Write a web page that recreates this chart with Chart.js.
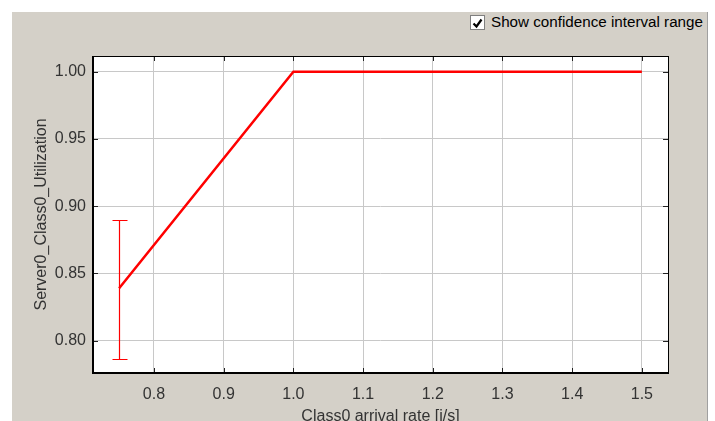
<!DOCTYPE html>
<html>
<head>
<meta charset="utf-8">
<script src="https://cdn.jsdelivr.net/npm/chart.js@4.4.0/dist/chart.umd.min.js"></script>
<style>
  html, body { margin: 0; padding: 0; background: #fff; overflow: hidden; }
  #panel { position: absolute; left: 12px; top: 12px; width: 695px; height: 420px;
           background: #d4d0c8; border-right: 1px solid #a0a0a0; }
  #chk { position: absolute; left: 458px; top: 3px; width: 13px; height: 13px;
         background: #fff; border: 1px solid #7f7f7f; }
  #chkLabel { position: absolute; left: 479px; top: 1px; font: 15.2px "Liberation Sans", Arial, sans-serif;
              color: #000; white-space: nowrap; }
  #c { position: absolute; left: 0; top: 0; }
</style>
</head>
<body>
<div id="panel">
  <div id="chk"><svg width="13" height="13"><polyline points="2.5,6.5 5.5,9.5 10.5,2.5" fill="none" stroke="#000" stroke-width="2.2"/></svg></div>
  <div id="chkLabel">Show confidence interval range</div>
  <canvas id="c" width="695" height="420"></canvas>
</div>
<script>
// arrival rate [j/s]
const rates = [0.75, 1.0, 1.5];
// utilization
const util = [0.839, 1.0, 1.0];
// confidence interval bounds
const ciLow = [0.7866, 1.0, 1.0];
const ciHigh = [0.8899, 1.0, 1.0];

const xTicks = [0.8, 0.9, 1.0, 1.1, 1.2, 1.3, 1.4, 1.5];
const yTicks = [0.80, 0.85, 0.90, 0.95, 1.00];

const fontFam = '"Liberation Sans", Arial, sans-serif';

const plotBg = {
    id: 'plotBg',
    beforeDraw(chart) {
        const a = chart.chartArea;
        chart.ctx.save();
        chart.ctx.fillStyle = '#fff';
        chart.ctx.fillRect(a.left, a.top, a.right - a.left, a.bottom - a.top);
        chart.ctx.restore();
    }
};

const errorBars = {
    id: 'errorBars',
    afterDatasetsDraw(chart) {
        const ctx = chart.ctx;
        const xs = chart.scales.x, ys = chart.scales.y;
        ctx.save();
        ctx.strokeStyle = '#ff0000';
        ctx.lineWidth = 1.2;
        for (let i = 0; i < rates.length; i++) {
            if (ciHigh[i] - ciLow[i] < 1e-6) continue;
            const px = Math.round(xs.getPixelForValue(rates[i])) + 0.5;
            const y1 = Math.round(ys.getPixelForValue(ciLow[i])) + 0.5;
            const y2 = Math.round(ys.getPixelForValue(ciHigh[i])) + 0.5;
            ctx.beginPath();
            ctx.moveTo(px, y1); ctx.lineTo(px, y2);
            ctx.moveTo(px - 7, y1); ctx.lineTo(px + 8, y1);
            ctx.moveTo(px - 7, y2); ctx.lineTo(px + 8, y2);
            ctx.stroke();
        }
        ctx.restore();
    }
};

const frame = {
    id: 'frame',
    afterDraw(chart) {
        const ctx = chart.ctx;
        const a = chart.chartArea;
        const xs = chart.scales.x, ys = chart.scales.y;
        ctx.save();
        ctx.strokeStyle = '#222';
        ctx.lineWidth = 1;
        ctx.beginPath();
        xTicks.forEach(v => {
            const px = Math.round(xs.getPixelForValue(v)) + 0.5;
            ctx.moveTo(px, a.bottom); ctx.lineTo(px, a.bottom - 5);
            ctx.moveTo(px, a.top); ctx.lineTo(px, a.top + 5);
        });
        yTicks.forEach(v => {
            const py = Math.round(ys.getPixelForValue(v)) + 0.5;
            ctx.moveTo(a.left, py); ctx.lineTo(a.left + 5, py);
            ctx.moveTo(a.right, py); ctx.lineTo(a.right - 5, py);
        });
        ctx.stroke();
        ctx.strokeStyle = '#000';
        ctx.strokeRect(Math.round(a.left) + 0.5, Math.round(a.top) + 0.5,
            Math.round(a.right - a.left), Math.round(a.bottom - a.top));
        ctx.lineWidth = 2;
        ctx.beginPath();
        ctx.moveTo(Math.round(a.left), a.top);
        ctx.lineTo(Math.round(a.left), Math.round(a.bottom));
        ctx.lineTo(a.right, Math.round(a.bottom));
        ctx.stroke();
        ctx.restore();
    }
};

new Chart(document.getElementById('c'), {
    type: 'line',
    data: {
        datasets: [{
            data: rates.map((r, i) => ({x: r, y: util[i]})),
            borderColor: '#ff0000',
            borderWidth: 2.5,
            pointRadius: 0,
            tension: 0,
            fill: false
        }]
    },
    options: {
        responsive: false,
        animation: false,
        layout: { padding: { left: 0, top: 44, right: 39, bottom: 0 } },
        plugins: { legend: { display: false }, tooltip: { enabled: false } },
        scales: {
            x: {
                type: 'linear',
                min: 0.7125,
                max: 1.5375,
                afterBuildTicks: s => { s.ticks = xTicks.map(v => ({value: v})); },
                afterFit: s => { s.height = 59; },
                grid: { color: '#c8c8c8', drawTicks: false },
                border: { display: false },
                ticks: { padding: 12, color: '#333', font: { family: fontFam, size: 16 },
                         callback: v => v.toFixed(1) },
                title: { display: true, text: 'Class0 arrival rate [j/s]', color: '#333',
                         font: { family: fontFam, size: 16 }, padding: { top: 0, bottom: 6 } }
            },
            y: {
                min: 0.776,
                max: 1.0117,
                afterBuildTicks: s => { s.ticks = yTicks.map(v => ({value: v})); },
                afterFit: s => { s.width = 81; },
                grid: { color: '#c8c8c8', drawTicks: false },
                border: { display: false },
                ticks: { padding: 7, color: '#333', font: { family: fontFam, size: 16 },
                         callback: v => v.toFixed(2) },
                title: { display: true, text: 'Server0_Class0_Utilization', color: '#333',
                         font: { family: fontFam, size: 16 }, padding: { top: 20, bottom: 0 } }
            }
        }
    },
    plugins: [plotBg, errorBars, frame]
});
</script>
</body>
</html>
